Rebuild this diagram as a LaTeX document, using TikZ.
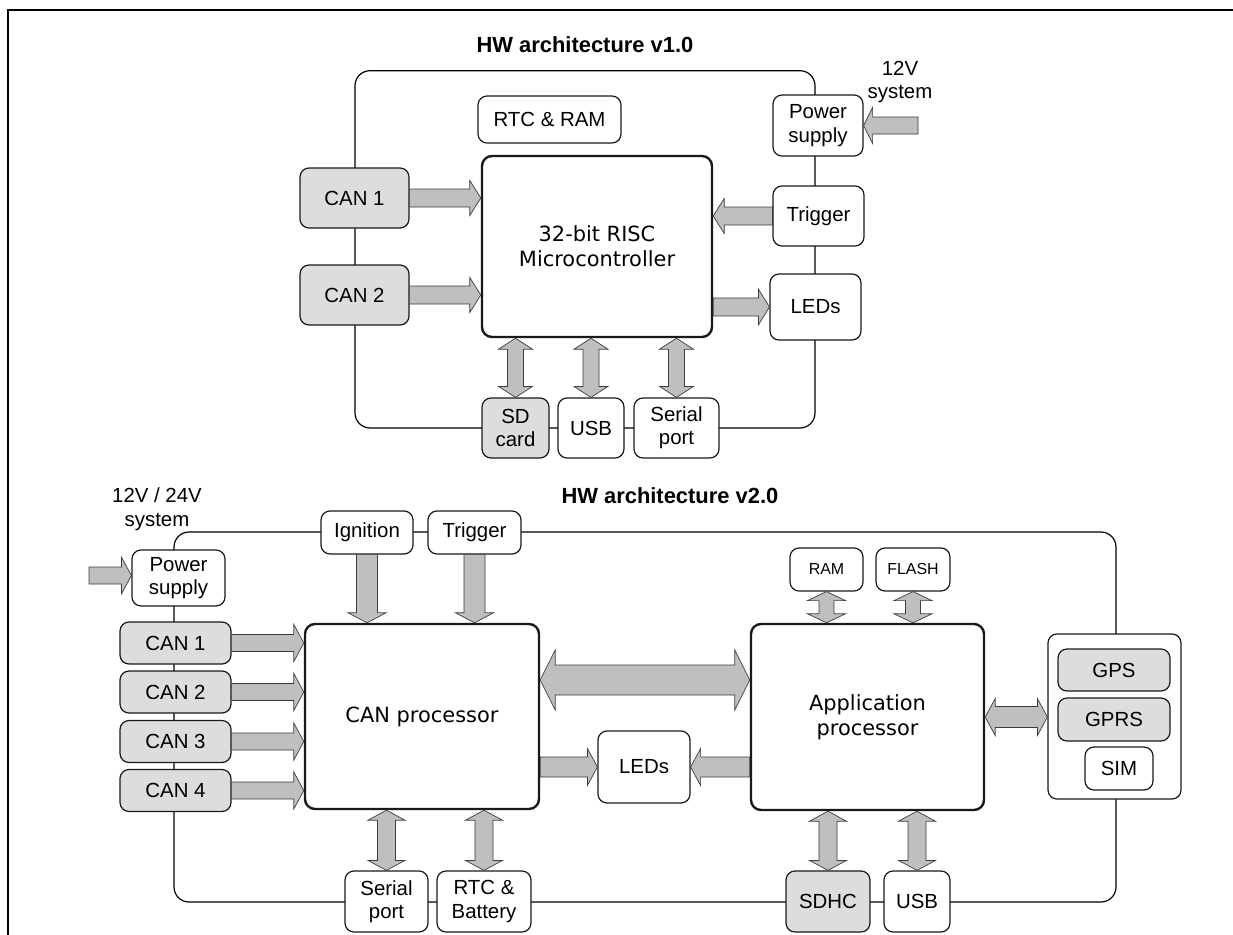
\documentclass[tikz,border=0pt]{standalone}
\usepackage{fontspec}
\setmainfont{Liberation Sans}
\newfontfamily\verd{DejaVu Sans}
\usetikzlibrary{calc}
\definecolor{boxgray}{RGB}{221,221,221}
\definecolor{arrgray}{RGB}{191,191,191}
\definecolor{arredge}{RGB}{60,60,60}

% single block arrow: start, tip, half shaft, half head, head length
\newcommand{\blkarrow}[5]{%
  \coordinate (baA) at (#1);
  \coordinate (baB) at (#2);
  \coordinate (baC) at ($(baB)!#5!(baA)$);
  \draw[blockarrow] ($(baA)!#3!90:(baB)$) -- ($(baC)!#3!90:(baB)$) -- ($(baC)!#4!90:(baB)$) -- (baB)
     -- ($(baC)!#4!-90:(baB)$) -- ($(baC)!#3!-90:(baB)$) -- ($(baA)!#3!-90:(baB)$) -- cycle;
}
% double block arrow
\newcommand{\blkdarrow}[5]{%
  \coordinate (baA) at (#1);
  \coordinate (baB) at (#2);
  \coordinate (baC) at ($(baB)!#5!(baA)$);
  \coordinate (baD) at ($(baA)!#5!(baB)$);
  \draw[blockarrow] ($(baD)!#3!90:(baB)$) -- ($(baC)!#3!90:(baB)$) -- ($(baC)!#4!90:(baB)$) -- (baB)
     -- ($(baC)!#4!-90:(baB)$) -- ($(baC)!#3!-90:(baB)$) -- ($(baD)!#3!-90:(baB)$)
     -- ($(baD)!#4!-90:(baB)$) -- (baA) -- ($(baD)!#4!90:(baB)$) -- cycle;
}

\begin{document}
\begin{tikzpicture}[x=1bp,y=-1bp,
  lbl/.style={font=\fontsize{20.5}{23.5}\selectfont, align=center},
  box/.style={draw=black!90, line width=1.2bp, rounded corners=9bp, fill=white, inner sep=0pt, lbl},
  graybox/.style={box, fill=boxgray},
  smallbox/.style={box, font=\fontsize{16}{19}\selectfont},
  proc/.style={box, line width=2.4bp, rounded corners=10bp, font=\verd\fontsize{21}{25}\selectfont},
  bus/.style={line width=1.2bp, rounded corners=15bp},
  blockarrow/.style={fill=arrgray, draw=arredge, line width=0.7bp, line join=miter},
  ttl/.style={font=\bfseries\fontsize{22}{26}\selectfont},
  vlbl/.style={font=\fontsize{20.5}{24}\selectfont, align=center}
]
\useasboundingbox (0,0) rectangle (1233,935);
\draw[line width=2bp] (7.7,935) -- (7.7,10) -- (1233,10);

%================ v1.0
\draw[bus] (355,70.7) rectangle (815,428);
\node[ttl, anchor=base] (t1) at (585,52) {HW architecture v1.0};
\node[vlbl] (v12) at (900,82) {12V\\system};
\node[box, minimum width=90bp, minimum height=61bp] (ps1) at (818,125.5) {Power\\supply};
\node[box, minimum width=143bp, minimum height=47bp] (rtc1) at (549.5,119.5) {RTC \& RAM};
\node[proc, minimum width=230bp, minimum height=181bp] (mcu) at (597,246.5) {32-bit RISC\\Microcontroller};
\node[graybox, minimum width=109bp, minimum height=60bp] (can1a) at (354.5,198) {CAN 1};
\node[graybox, minimum width=109bp, minimum height=60bp] (can2a) at (354.5,295) {CAN 2};
\node[box, minimum width=91bp, minimum height=60bp] (trig1) at (818.5,216) {Trigger};
\node[box, minimum width=91bp, minimum height=66bp] (leds1) at (815.5,307) {LEDs};
\node[graybox, minimum width=67bp, minimum height=60bp] (sd) at (515.5,428) {SD\\card};
\node[box, minimum width=66bp, minimum height=60bp] (usb1) at (591,428) {USB};
\node[box, minimum width=85bp, minimum height=60bp] (ser1) at (676.5,428) {Serial\\port};
\coordinate (in1) at (918,125.5);

\blkarrow{in1}{ps1.east}{8.5bp}{18bp}{9bp}
\blkarrow{can1a.east}{can1a.east -| mcu.west}{9bp}{17.5bp}{11bp}
\blkarrow{can2a.east}{can2a.east -| mcu.west}{9bp}{17.5bp}{11bp}
\blkarrow{trig1.west}{trig1.west -| mcu.east}{9bp}{17.5bp}{11bp}
\blkarrow{leds1.west -| mcu.east}{leds1.west}{9bp}{18bp}{11bp}
\blkdarrow{sd.north |- mcu.south}{sd.north}{8bp}{17bp}{11bp}
\blkdarrow{usb1.north |- mcu.south}{usb1.north}{8bp}{17bp}{11bp}
\blkdarrow{ser1.north |- mcu.south}{ser1.north}{8bp}{17bp}{11bp}

%================ v2.0
\draw[bus] (174,532) rectangle (1116,902);
\node[ttl, anchor=base west] (t2) at (558,503) {HW architecture v2.0};
\node[vlbl] (v24) at (157,509) {12V / 24V\\system};
\node[box, minimum width=93bp, minimum height=56bp] (ps2) at (178.5,578) {Power\\supply};
\node[graybox, minimum width=111bp, minimum height=42bp] (can1b) at (175.5,643) {CAN 1};
\node[graybox, minimum width=111bp, minimum height=42bp] (can2b) at (175.5,692) {CAN 2};
\node[graybox, minimum width=111bp, minimum height=42bp] (can3b) at (175.5,741.5) {CAN 3};
\node[graybox, minimum width=111bp, minimum height=42bp] (can4b) at (175.5,790.5) {CAN 4};
\node[proc, minimum width=234bp, minimum height=185bp] (canp) at (422,716.5) {CAN processor};
\node[box, minimum width=92bp, minimum height=43bp] (ign) at (367,532.5) {Ignition};
\node[box, minimum width=93bp, minimum height=43bp] (trig2) at (474.5,532.5) {Trigger};
\node[box, minimum width=83bp, minimum height=61bp] (ser2) at (386.5,901.5) {Serial\\port};
\node[box, minimum width=94bp, minimum height=61bp] (rtc2) at (484,901.5) {RTC \&\\Battery};
\node[smallbox, minimum width=73bp, minimum height=43bp] (ram) at (826.5,569.5) {RAM};
\node[smallbox, minimum width=74bp, minimum height=43bp] (flash) at (913,569.5) {FLASH};
\node[proc, minimum width=233bp, minimum height=186bp] (app) at (867.5,717) {Application\\processor};
\node[box, minimum width=92bp, minimum height=72bp] (leds2) at (644,767) {LEDs};
\node[box, minimum width=133bp, minimum height=165bp] (gbox) at (1114.5,716.5) {};
\node[graybox, minimum width=112bp, minimum height=42bp] (gps) at (1114,670) {GPS};
\node[graybox, minimum width=112bp, minimum height=43bp] (gprs) at (1114,719.5) {GPRS};
\node[box, minimum width=68bp, minimum height=43bp] (sim) at (1119,768.5) {SIM};
\node[graybox, minimum width=84bp, minimum height=61bp] (sdhc) at (828,901.5) {SDHC};
\node[box, minimum width=66bp, minimum height=61bp] (usb2) at (917,901.5) {USB};
\coordinate (in2) at (89,575.5);

\blkarrow{in2}{in2 -| ps2.west}{8.5bp}{18.5bp}{10bp}
\blkarrow{can1b.east}{can1b.east -| canp.west}{8.5bp}{18.5bp}{10bp}
\blkarrow{can2b.east}{can2b.east -| canp.west}{8.5bp}{18.5bp}{10bp}
\blkarrow{can3b.east}{can3b.east -| canp.west}{8.5bp}{18.5bp}{10bp}
\blkarrow{can4b.east}{can4b.east -| canp.west}{8.5bp}{18.5bp}{10bp}
\blkarrow{ign.south}{ign.south |- canp.north}{10.5bp}{19bp}{10bp}
\blkarrow{trig2.south}{trig2.south |- canp.north}{10.5bp}{19bp}{10bp}
\blkdarrow{ser2.north |- canp.south}{ser2.north}{9bp}{18.5bp}{10bp}
\blkdarrow{rtc2.north |- canp.south}{rtc2.north}{9bp}{18.5bp}{10bp}
\blkdarrow{canp.east |- 0,680}{app.west |- 0,680}{15bp}{30bp}{15bp}
\blkarrow{leds2.west -| canp.east}{leds2.west}{10bp}{18.5bp}{10bp}
\blkarrow{leds2.east -| app.west}{leds2.east}{10bp}{18.5bp}{10bp}
\blkdarrow{ram.south}{ram.south |- app.north}{7.5bp}{19bp}{9bp}
\blkdarrow{flash.south}{flash.south |- app.north}{7.5bp}{19bp}{9bp}
\blkdarrow{app.east}{app.east -| gbox.west}{10.5bp}{18.5bp}{10bp}
\blkdarrow{sdhc.north |- app.south}{sdhc.north}{9bp}{18.5bp}{10bp}
\blkdarrow{usb2.north |- app.south}{usb2.north}{9bp}{18.5bp}{10bp}
\end{tikzpicture}
\end{document}
